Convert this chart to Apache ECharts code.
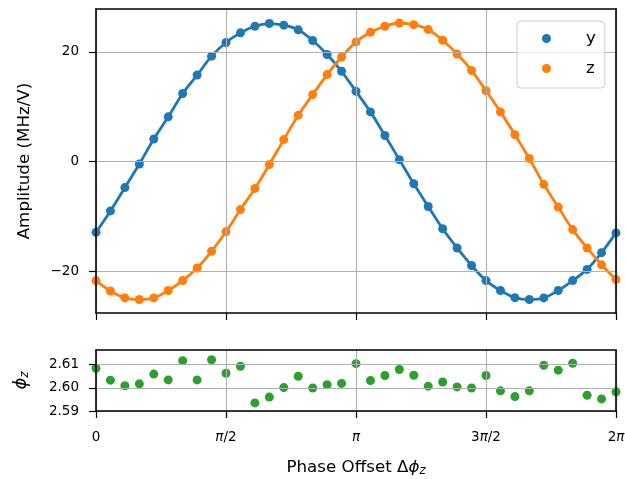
<!DOCTYPE html>
<html><head><meta charset="utf-8">
<script src="https://cdn.jsdelivr.net/npm/echarts@6/dist/echarts.min.js"></script>
<style>html,body{margin:0;padding:0;background:#fff}#c{width:625px;height:479px}</style>
</head><body><div id="c"></div>
<script>
// Phase offset in degrees (0 .. 2π)
const phaseDeg = [0,10,20,30,40,50,60,70,80,90,100,110,120,130,140,150,160,170,180,
  190,200,210,220,230,240,250,260,270,280,290,300,310,320,330,340,350,360];
// Amplitude y (MHz/V)
const yAmp = [-12.9,-9.0,-4.75,-0.45,4.1,8.15,12.4,15.75,19.2,21.7,23.45,24.65,25.15,24.85,24.0,22.05,19.5,16.45,12.8,
  9.05,4.75,0.35,-4.05,-8.2,-12.25,-15.75,-18.95,-21.7,-23.5,-24.8,-25.15,-24.85,-23.5,-21.7,-19.65,-16.6,-13.0];
// Amplitude z (MHz/V)
const zAmp = [-21.7,-23.6,-24.85,-25.15,-24.85,-23.5,-21.7,-19.4,-16.35,-12.8,-8.75,-4.9,-0.55,4.0,8.45,12.2,15.85,19.05,21.8,
  23.55,24.65,25.25,24.95,24.05,22.1,19.6,16.6,12.9,9.05,4.9,0.55,-4.15,-8.3,-12.4,-15.75,-18.8,-21.5];
// phi_z
const phiZ = [2.6084,2.6033,2.6009,2.6017,2.6059,2.6034,2.6117,2.6034,2.6121,2.6063,2.6093,2.5935,2.5960,2.6001,2.6050,2.5999,2.6013,2.6019,2.6104,
  2.6031,2.6053,2.6079,2.6054,2.6007,2.6025,2.6004,2.5999,2.6053,2.5987,2.5962,2.5987,2.6097,2.6076,2.6106,2.5968,2.5952,2.5983];
// Tick labels
const xTickValues = [0,90,180,270,360];
const xTickLabels = ['0','π/2','π','3π/2','2π'];
const ampTicks = [-20,0,20];
const phiTicks = [2.59,2.60,2.61];

const FONT = 'DejaVu Sans';
const C_Y = '#1f77b4', C_Z = '#ff7f0e', C_P = '#2ca02c';
const GRIDC = '#b0b0b0';

const chart = echarts.init(document.getElementById('c'), null, {renderer:'canvas'});

function xFmt(v){
  const i = xTickValues.indexOf(Math.round(v));
  if (i < 0) return '';
  return xTickLabels[i].replace('π','{i|π}');
}
const tickLabelStyle = {color:'#000', fontFamily:FONT, fontSize:13.5};
const spine = {show:true, onZero:false, lineStyle:{color:'#000', width:1.6}};
function borderAxis(extra){
  return Object.assign({type:'value', z:10, axisLine:spine, axisTick:{show:false},
    axisLabel:{show:false}, splitLine:{show:false}}, extra);
}

const option = {
  animation:false,
  backgroundColor:'#fff',
  legend:{
    show:true,
    data:['y','z'],
    orient:'vertical',
    left:517, top:21,
    icon:'circle',
    itemWidth:9, itemHeight:9,
    itemGap:13,
    padding:[9,9,11,25],
    backgroundColor:'rgba(255,255,255,0.8)',
    borderColor:'#cccccc', borderWidth:1, borderRadius:4,
    z:20,
    formatter:function(n){return '{t|'+n+'}';},
    textStyle:{color:'#000', fontFamily:FONT, fontSize:16.7,
      rich:{t:{fontFamily:FONT, fontSize:16.7, color:'#000', padding:[0,0,0,30]}}}
  },
  grid:[
    {left:96, width:520, top:9, height:304, show:false, containLabel:false, outerBoundsMode:'none'},
    {left:96, width:520, top:350, height:61, show:false, containLabel:false, outerBoundsMode:'none'}
  ],
  xAxis:[
    {type:'value', gridIndex:0, min:0, max:360, interval:90, z:10,
      axisLine:spine,
      axisTick:{show:true, length:7, lineStyle:{color:'#000', width:1.2}},
      axisLabel:{show:false},
      splitLine:{show:true, lineStyle:{color:GRIDC, width:1.1}}},
    {type:'value', gridIndex:1, min:0, max:360, interval:90, z:10,
      axisLine:spine,
      axisTick:{show:true, length:7, lineStyle:{color:'#000', width:1.2}},
      axisLabel:Object.assign({show:true, margin:19, formatter:xFmt,
        rich:{i:{fontStyle:'italic', fontFamily:FONT, fontSize:13.5, color:'#000'}}}, tickLabelStyle),
      splitLine:{show:true, lineStyle:{color:GRIDC, width:1.1}},
      name:'Phase Offset Δ{p|ϕ}{s|z}', nameLocation:'middle', nameGap:47,
      nameTextStyle:{color:'#000', fontFamily:FONT, fontSize:16.7,
        rich:{p:{fontStyle:'italic', fontFamily:FONT, fontSize:16.7, color:'#000'},
              s:{fontStyle:'italic', fontFamily:FONT, fontSize:11.7, color:'#000', padding:[7,0,0,0]}}}},
    borderAxis({gridIndex:0, position:'top', min:0, max:360}),
    borderAxis({gridIndex:1, position:'top', min:0, max:360})
  ],
  yAxis:[
    {type:'value', gridIndex:0, min:-27.6, max:27.8, z:10,
      axisLine:spine,
      axisTick:{show:true, length:7, customValues:ampTicks, lineStyle:{color:'#000', width:1.2}},
      axisLabel:Object.assign({show:true, margin:17, customValues:ampTicks,
        formatter:function(v){return (v<0?'\u2212':'')+Math.abs(v);}}, tickLabelStyle),
      splitLine:{show:true, lineStyle:{color:GRIDC, width:1.1}},
      name:'Amplitude (MHz/V)', nameLocation:'middle', nameGap:63, nameRotate:90,
      nameTextStyle:{color:'#000', fontFamily:FONT, fontSize:16.7}},
    {type:'value', gridIndex:1, min:2.59, max:2.6163, z:10,
      axisLine:spine,
      axisTick:{show:true, length:7, customValues:phiTicks, lineStyle:{color:'#000', width:1.2}},
      axisLabel:Object.assign({show:true, margin:17, customValues:phiTicks,
        formatter:function(v){return v.toFixed(2);}}, tickLabelStyle),
      splitLine:{show:true, lineStyle:{color:GRIDC, width:1.1}},
      name:'{p|ϕ}{s|z}', nameLocation:'middle', nameGap:65, nameRotate:90,
      nameTextStyle:{color:'#000', fontFamily:FONT, fontSize:16.7,
        rich:{p:{fontStyle:'italic', fontFamily:FONT, fontSize:18, color:'#000'},
              s:{fontStyle:'italic', fontFamily:FONT, fontSize:12, color:'#000', padding:[7,0,0,0]}}}},
    borderAxis({gridIndex:0, position:'right', min:-27.6, max:27.8}),
    borderAxis({gridIndex:1, position:'right', min:2.59, max:2.6163})
  ],
  series:[
    {name:'y', type:'line', xAxisIndex:0, yAxisIndex:0,
      data:phaseDeg.map((x,i)=>[x,yAmp[i]]), smooth:0.3,
      symbol:'circle', symbolSize:9, showAllSymbol:true,
      lineStyle:{color:C_Y, width:2.8}, itemStyle:{color:C_Y}, z:3},
    {name:'z', type:'line', xAxisIndex:0, yAxisIndex:0,
      data:phaseDeg.map((x,i)=>[x,zAmp[i]]), smooth:0.3,
      symbol:'circle', symbolSize:9, showAllSymbol:true,
      lineStyle:{color:C_Z, width:2.8}, itemStyle:{color:C_Z}, z:4},
    {name:'phi', type:'scatter', xAxisIndex:1, yAxisIndex:1,
      data:phaseDeg.map((x,i)=>[x,phiZ[i]]),
      symbol:'circle', symbolSize:9, itemStyle:{color:C_P, opacity:1}, z:3}
  ]
};
chart.setOption(option);
</script>
</body></html>
